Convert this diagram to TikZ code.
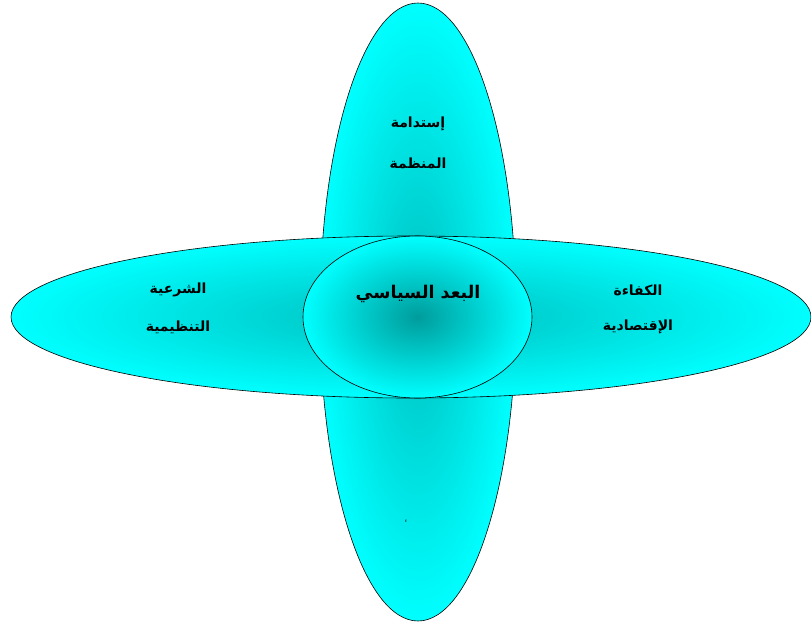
\documentclass[tikz,border=0pt]{standalone}
\usepackage{fontspec}
\TeXXeTstate=1
\newfontfamily\arabicfont[Script=Arabic]{DejaVu Sans}
\definecolor{cyanx}{HTML}{00FFFF}
\definecolor{tealc}{HTML}{00BEBE}
\definecolor{tealm}{HTML}{009C9C}
\tikzset{
  petal/.style={draw=black, line width=0.6pt, inner color=tealc, outer color=cyanx},
  core/.style={draw=black, line width=0.6pt, inner color=tealm, outer color=cyanx},
  lbl/.style={font=\arabicfont\bfseries\fontsize{14}{16}\selectfont, text=black, inner sep=0pt},
  bigl/.style={font=\arabicfont\bfseries\fontsize{17.5}{20}\selectfont, text=black, inner sep=0pt}
}
\begin{document}
\begin{tikzpicture}[x=1pt,y=-1pt]
\useasboundingbox (0,0) rectangle (811,626);
\fill[white] (0,0) rectangle (811,626);
% vertical ellipse
\path[petal] (418,312) ellipse [x radius=98, y radius=309];
% horizontal ellipse
\path[petal] (411,317) ellipse [x radius=400, y radius=81];
% core ellipse
\path[core] (417.5,317) ellipse [x radius=114.5, y radius=81];
% labels
\node[lbl] (t1) at (418,124) {\beginR إستدامة\endR};
\node[lbl] (t2) at (418,163) {\beginR المنظمة\endR};
\node[lbl] (l1) at (178,290) {\beginR الشرعية\endR};
\node[lbl] (l2) at (178,327) {\beginR التنظيمية\endR};
\node[lbl] (r1) at (638,290) {\beginR الكفاءة\endR};
\node[lbl] (r2) at (638,327) {\beginR الإقتصادية\endR};
\node[bigl] (c) at (418,294) {\beginR البعد السياسي\endR};
\node[font=\arabicfont\fontsize{5}{6}\selectfont, inner sep=0pt] (m) at (406,521) {ء};
\end{tikzpicture}
\end{document}
